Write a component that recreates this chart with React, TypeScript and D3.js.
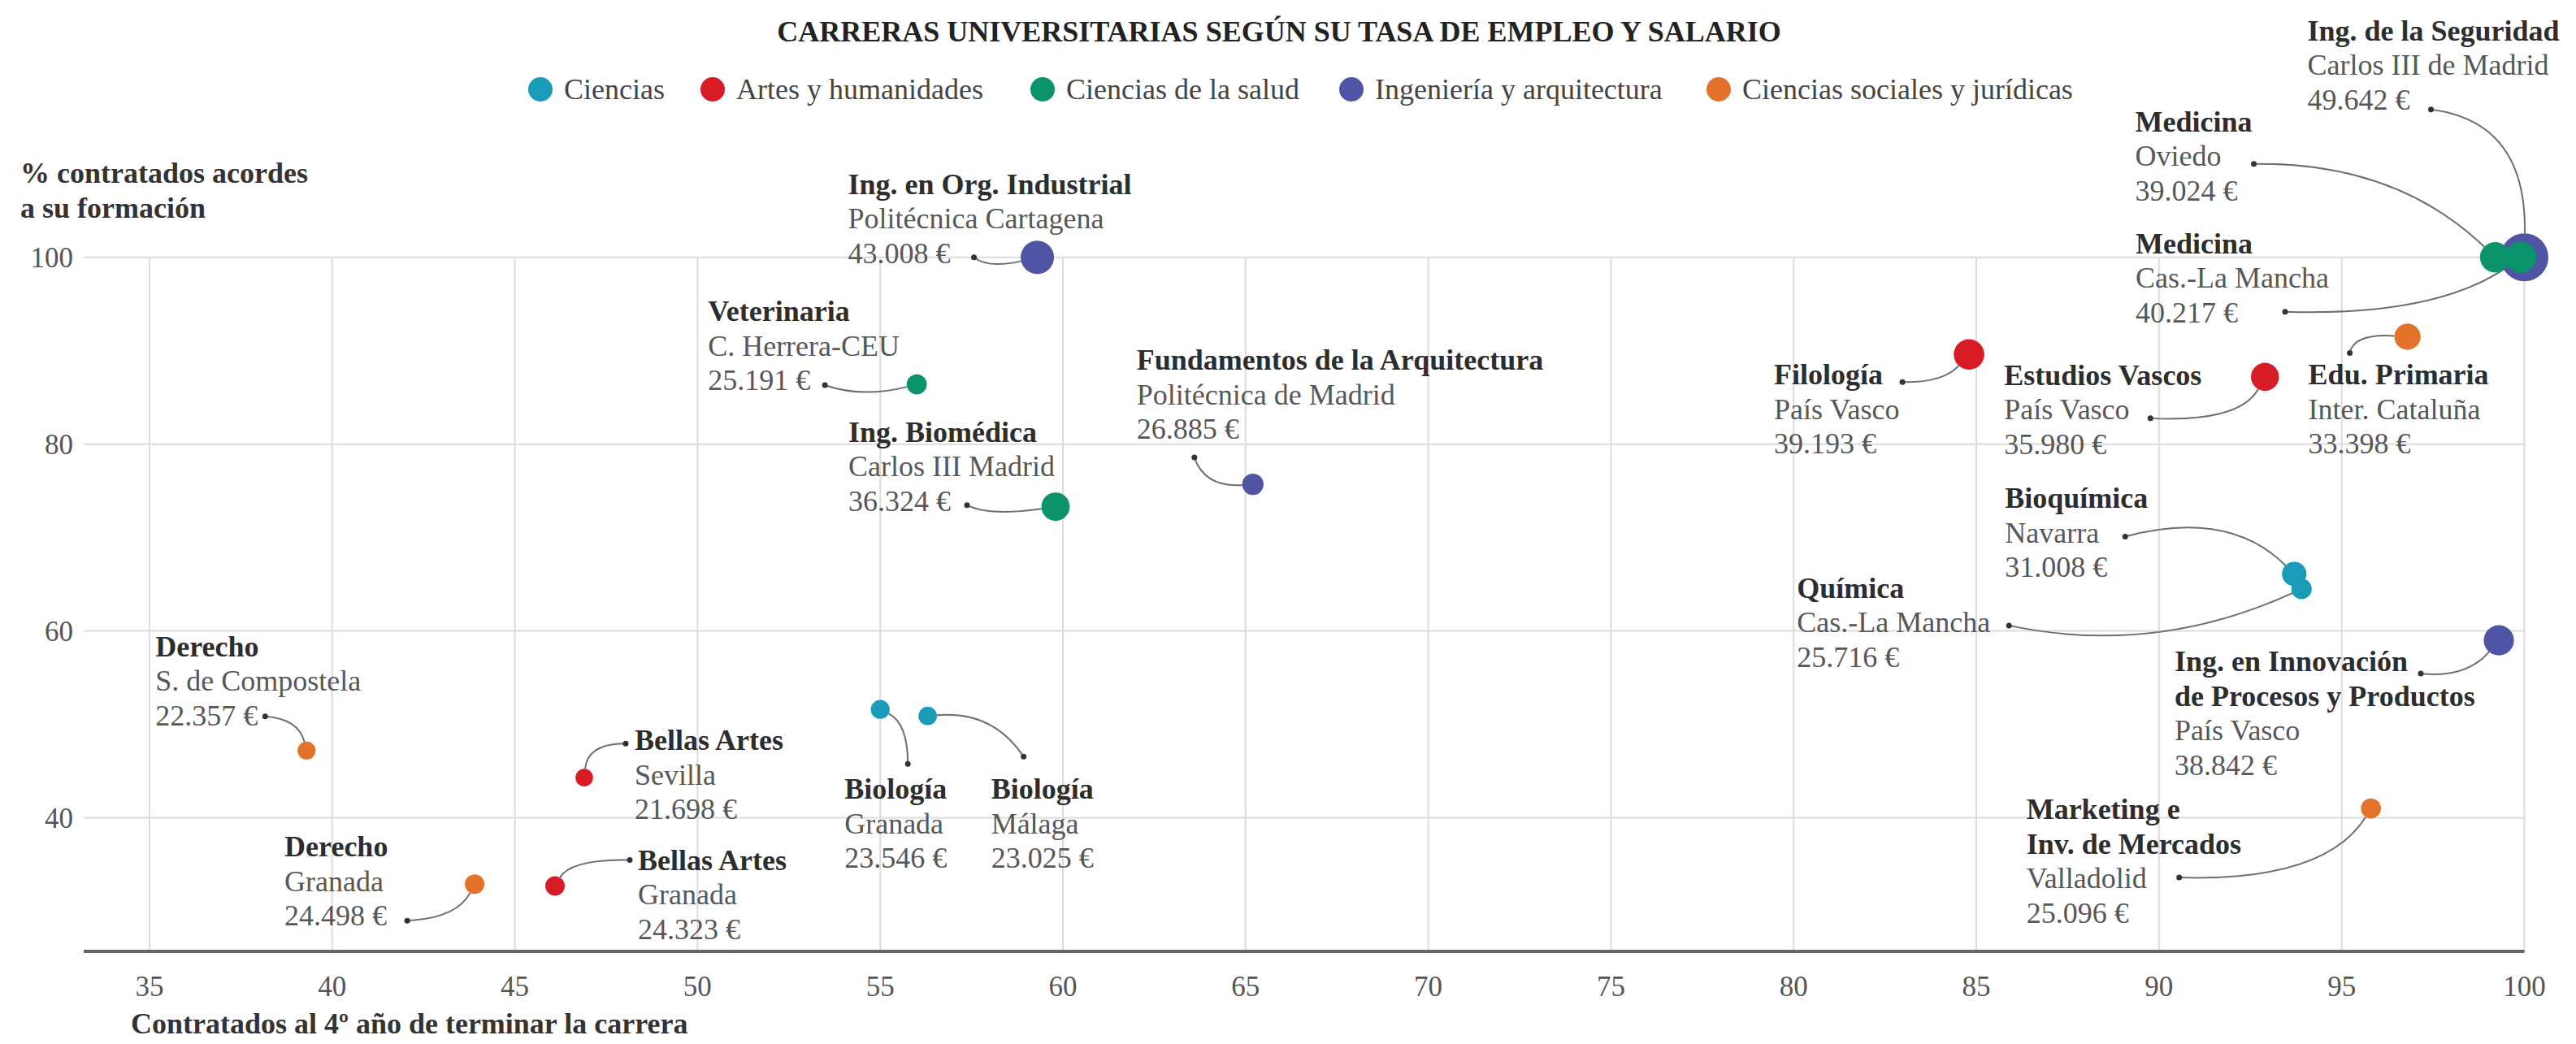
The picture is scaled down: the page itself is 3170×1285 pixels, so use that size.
import React, { useEffect, useRef } from 'react';
import * as d3 from 'd3';

// Ramas de conocimiento (leyenda)
const ramas = [
  "Ciencias",
  "Artes y humanidades",
  "Ciencias de la salud",
  "Ingeniería y arquitectura",
  "Ciencias sociales y jurídicas",
];
const coloresRamas = ["#1a9cb8", "#d81c26", "#0b946c", "#4f55a4", "#e3722b"];

// Carreras
const carreras = [
  "Ing. en Org. Industrial",
  "Veterinaria",
  "Ing. Biomédica",
  "Fundamentos de la Arquitectura",
  "Biología",
  "Biología",
  "Derecho",
  "Bellas Artes",
  "Derecho",
  "Bellas Artes",
  "Filología",
  "Estudios Vascos",
  "Edu. Primaria",
  "Bioquímica",
  "Química",
  "Ing. en Innovación\nde Procesos y Productos",
  "Marketing e\nInv. de Mercados",
  "Ing. de la Seguridad",
  "Medicina",
  "Medicina",
];
const universidades = [
  "Politécnica Cartagena",
  "C. Herrera-CEU",
  "Carlos III Madrid",
  "Politécnica de Madrid",
  "Granada",
  "Málaga",
  "S. de Compostela",
  "Sevilla",
  "Granada",
  "Granada",
  "País Vasco",
  "País Vasco",
  "Inter. Cataluña",
  "Navarra",
  "Cas.-La Mancha",
  "País Vasco",
  "Valladolid",
  "Carlos III de Madrid",
  "Oviedo",
  "Cas.-La Mancha",
];
const salarios = [
  43008, 25191, 36324, 26885, 23546, 23025, 22357, 21698, 24498, 24323,
  39193, 35980, 33398, 31008, 25716, 38842, 25096, 49642, 39024, 40217,
];
// % contratados al 4º año (eje X)
const contratados = [
  59.3, 56.0, 59.8, 65.2, 55.0, 56.3, 39.3, 46.9, 43.9, 46.1,
  84.8, 92.9, 96.8, 93.7, 93.9, 99.3, 95.8, 100, 99.2, 99.9,
];
// % contratados acordes a su formación (eje Y)
const acordes = [
  100, 86.4, 73.3, 75.7, 51.6, 50.9, 47.2, 44.3, 32.9, 32.7,
  89.6, 87.2, 91.5, 66.1, 64.5, 59.0, 41.0, 100, 100, 100,
];
const ramaCarrera = [3, 2, 2, 3, 0, 0, 4, 1, 4, 1, 1, 1, 4, 0, 0, 3, 4, 3, 2, 2];

const ticksX = [35, 40, 45, 50, 55, 60, 65, 70, 75, 80, 85, 90, 95, 100];
const ticksY = [40, 60, 80, 100];

// colocación de las etiquetas respecto a cada punto (px):
// d = inicio del texto, s = punto del conector, c = control de la curva
const anotaciones = [
  { dx: -233, dy: -78, sx: -78, sy: 0, cx: -60, cy: 14 },
  { dx: -257, dy: -78, sx: -113, sy: 1, cx: -67, cy: 17 },
  { dx: -255, dy: -80, sx: -109, sy: -2, cx: -82, cy: 12 },
  { dx: -143, dy: -141, sx: -72, sy: -33, cx: -59, cy: 4 },
  { dx: -44, dy: 110, sx: 34, sy: 67, cx: 34, cy: 17 },
  { dx: 78, dy: 102, sx: 118, sy: 50, cx: 80, cy: -7 },
  { dx: -186, dy: -116, sx: -51, sy: -42, cx: -10, cy: -39 },
  { dx: 62, dy: -34, sx: 51, sy: -42, cx: 4, cy: -42 },
  { dx: -234, dy: -34, sx: -83, sy: 45, cx: -22, cy: 42 },
  { dx: 102, dy: -20, sx: 92, sy: -32, cx: 19, cy: -33 },
  { dx: -240, dy: 37, sx: -82, sy: 34, cx: -32, cy: 35 },
  { dx: -321, dy: 10, sx: -141, sy: 51, cx: -31, cy: 56 },
  { dx: -122, dy: 59, sx: -71, sy: 20, cx: -66, cy: -4 },
  { dx: -356, dy: -81, sx: -208, sy: -46, cx: -81, cy: -80 },
  { dx: -621, dy: 11, sx: -360, sy: 45, cx: -182, cy: 83 },
  { dx: -399, dy: 38, sx: -96, sy: 41, cx: -40, cy: 47 },
  { dx: -424, dy: 13, sx: -236, sy: 85, cx: -56, cy: 90 },
  { dx: -267, dy: -267, sx: -115, sy: -182, cx: 3, cy: -167 },
  { dx: -443, dy: -155, sx: -297, sy: -115, cx: -122, cy: -117 },
  { dx: -474, dy: -5, sx: -290, sy: 67, cx: -103, cy: 73 },
];

// posición horizontal de cada entrada de la leyenda
const leyendaX = [665, 877, 1283, 1663, 2115];

const FUENTE = '"Liberation Serif", "Times New Roman", serif';
const ANCHO = 3170;
const ALTO = 1285;

export default function App() {
  const svgRef = useRef<SVGSVGElement>(null);

  useEffect(() => {
    document.body.style.margin = '0';
    const svg = d3.select(svgRef.current);
    svg.selectAll('*').remove();

    const x = d3.scaleLinear().domain([33.2, 100]).range([103, 3106.5]);
    const y = d3.scaleLinear().domain([25.7, 100]).range([1171, 316.7]);
    const r = d3.scaleLinear().domain([20000, 43000, 50000]).range([10, 20.5, 30]);

    const euros = d3.formatLocale({
      decimal: ',', thousands: '.', grouping: [3], currency: ['', ' €'],
    }).format('$,');

    svg.append('rect').attr('width', ANCHO).attr('height', ALTO).attr('fill', '#fff');

    // Título
    svg.append('text')
      .attr('x', 1574).attr('y', 51)
      .attr('text-anchor', 'middle')
      .attr('font-family', FUENTE).attr('font-size', 36).attr('font-weight', 'bold')
      .attr('fill', '#222')
      .text('CARRERAS UNIVERSITARIAS SEGÚN SU TASA DE EMPLEO Y SALARIO');

    // Leyenda
    const leyenda = svg.append('g');
    ramas.forEach((rama, i) => {
      const lx = leyendaX[i];
      leyenda.append('circle').attr('cx', lx).attr('cy', 110).attr('r', 15).attr('fill', coloresRamas[i]);
      leyenda.append('text')
        .attr('x', lx + 29).attr('y', 122)
        .attr('font-family', FUENTE).attr('font-size', 36)
        .attr('fill', '#444')
        .text(rama);
    });

    // Rejilla
    const rejilla = svg.append('g').attr('stroke', '#dcdcdc').attr('stroke-width', 2);
    ticksY.forEach(t => {
      rejilla.append('line').attr('x1', 103).attr('x2', x(100)).attr('y1', y(t)).attr('y2', y(t));
    });
    ticksX.forEach(t => {
      rejilla.append('line').attr('x1', x(t)).attr('x2', x(t)).attr('y1', y(100)).attr('y2', y(25.7));
    });

    // Eje X
    svg.append('line')
      .attr('x1', 103).attr('x2', x(100)).attr('y1', y(25.7)).attr('y2', y(25.7))
      .attr('stroke', '#666').attr('stroke-width', 4);

    svg.append('g').selectAll('text')
      .data(ticksX).enter().append('text')
      .attr('x', d => x(d)).attr('y', 1226)
      .attr('text-anchor', 'middle')
      .attr('font-family', FUENTE).attr('font-size', 35).attr('fill', '#555')
      .text(d => d);

    svg.append('g').selectAll('text')
      .data(ticksY).enter().append('text')
      .attr('x', 90).attr('y', d => y(d) + 12)
      .attr('text-anchor', 'end')
      .attr('font-family', FUENTE).attr('font-size', 35).attr('fill', '#555')
      .text(d => d);

    svg.append('text')
      .attr('x', 161).attr('y', 1272)
      .attr('font-family', FUENTE).attr('font-size', 36).attr('font-weight', 'bold')
      .attr('fill', '#333')
      .text('Contratados al 4º año de terminar la carrera');

    const tituloY = svg.append('text')
      .attr('font-family', FUENTE).attr('font-size', 36).attr('font-weight', 'bold')
      .attr('fill', '#333');
    tituloY.append('tspan').attr('x', 25).attr('y', 225).text('% contratados acordes');
    tituloY.append('tspan').attr('x', 25).attr('y', 268).text('a su formación');

    const puntos = carreras.map((c, i) => ({
      i,
      px: x(contratados[i]),
      py: y(acordes[i]),
      radio: r(salarios[i]),
      color: coloresRamas[ramaCarrera[i]],
      a: anotaciones[i],
    }));

    // Conectores
    const conectores = svg.append('g');
    puntos.forEach(p => {
      const { a } = p;
      const sx = p.px + a.sx, sy = p.py + a.sy;
      const cx = p.px + a.cx, cy = p.py + a.cy;
      const len = Math.hypot(a.cx, a.cy);
      const ex = p.px + (a.cx / len) * p.radio;
      const ey = p.py + (a.cy / len) * p.radio;
      const path = d3.path();
      path.moveTo(sx, sy);
      path.quadraticCurveTo(cx, cy, ex, ey);
      conectores.append('path')
        .attr('d', path.toString())
        .attr('fill', 'none').attr('stroke', '#6e6e6e').attr('stroke-width', 2);
      conectores.append('circle').attr('cx', sx).attr('cy', sy).attr('r', 3.5).attr('fill', '#333');
    });

    // Puntos (los grandes debajo)
    svg.append('g').selectAll('circle')
      .data([...puntos].sort((a, b) => b.radio - a.radio))
      .enter().append('circle')
      .attr('cx', d => d.px).attr('cy', d => d.py)
      .attr('r', d => d.radio)
      .attr('fill', d => d.color);

    // Etiquetas
    const etiquetas = svg.append('g').attr('font-family', FUENTE).attr('font-size', 36);
    puntos.forEach(p => {
      const tx = p.px + p.a.dx;
      const ty = p.py + p.a.dy;
      const lineas = carreras[p.i].split('\n');
      const t = etiquetas.append('text');
      let k = 0;
      lineas.forEach(l => {
        t.append('tspan').attr('x', tx).attr('y', ty + k * 42.5)
          .attr('font-weight', 'bold').attr('fill', '#2d2d2d').text(l);
        k++;
      });
      t.append('tspan').attr('x', tx).attr('y', ty + k * 42.5).attr('fill', '#575757').text(universidades[p.i]);
      k++;
      t.append('tspan').attr('x', tx).attr('y', ty + k * 42.5).attr('fill', '#575757').text(euros(salarios[p.i]));
    });
  }, []);

  return <svg ref={svgRef} width={ANCHO} height={ALTO} style={{ display: 'block', background: '#fff' }} />;
}
